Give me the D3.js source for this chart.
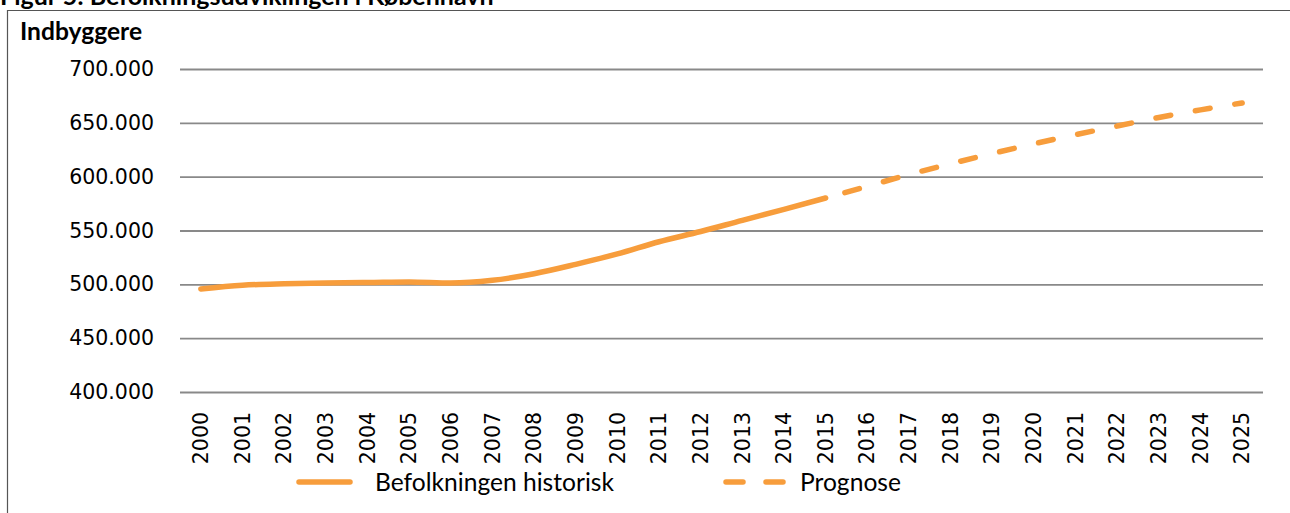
<!DOCTYPE html>
<html><head><meta charset="utf-8">
<script src="https://cdn.jsdelivr.net/npm/d3@7"></script>
<style>html,body{margin:0;padding:0;background:#fff;overflow:hidden}</style>
</head><body>
<svg id="c" width="1290" height="513"></svg>
<script>
const years = ["2000","2001","2002","2003","2004","2005","2006","2007","2008","2009","2010","2011","2012","2013","2014","2015","2016","2017","2018","2019","2020","2021","2022","2023","2024","2025"];
const histYears = ["2000","2001","2002","2003","2004","2005","2006","2007","2008","2009","2010","2011","2012","2013","2014","2015"];
const histValues = [495699, 499148, 500531, 501285, 501664, 502204, 501158, 503699, 509861, 518574, 528208, 539542, 549050, 559440, 569557, 580184];
const progYears = ["2015","2016","2017","2018","2019","2020","2021","2022","2023","2024","2025"];
const progValues = [580184, 591000, 602000, 612000, 621500, 630500, 639000, 647000, 655000, 662000, 668500];
const yTicks = [400000, 450000, 500000, 550000, 600000, 650000, 700000];
const title = "Figur 5: Befolkningsudviklingen i København";
const yTitle = "Indbyggere";
const seriesNames = ["Befolkningen historisk", "Prognose"];

const svg = d3.select("#c");
const orange = "#F79D3C";
const labelFont = "'DejaVu Sans', sans-serif";
const textFont = "Lato, 'Open Sans', sans-serif";

// frame
svg.append("path").attr("d","M7.5,520 V10.5 H1300").attr("fill","none").attr("stroke","#555").attr("stroke-width",1.2);
// title (cut off at the top edge as in the reference)
svg.append("text").attr("x",0).attr("y",5).text(title)
  .attr("font-family",textFont).attr("font-weight","bold").attr("font-size",25).attr("fill","#000");
svg.append("text").attr("x",20).attr("y",40).text(yTitle)
  .attr("font-family",textFont).attr("font-weight","bold").attr("font-size",24.6).attr("fill","#000");

const x = d3.scaleBand().domain(years).range([180,1263]);
const y = d3.scaleLinear().domain([400000,700000]).range([392,69]);
const cx = d => x(d) + x.bandwidth()/2;

// gridlines
const yAxis = d3.axisLeft(y).tickValues(yTicks).tickSize(-(1263-180)).tickPadding(26)
  .tickFormat(d => d3.format(",")(d).replace(/,/g,"."));
const ga = svg.append("g").attr("transform","translate(180,0)").call(yAxis);
ga.select(".domain").remove();
ga.selectAll(".tick line").attr("stroke","#898989").attr("stroke-width",1.8);
ga.selectAll(".tick text").attr("font-family",labelFont).attr("font-size",20.5).attr("fill","#000");

// x axis labels
const xAxis = d3.axisBottom(x).tickSize(0).tickPadding(0);
const gx = svg.append("g").attr("transform","translate(0,392)").call(xAxis);
gx.select(".domain").remove();
gx.selectAll(".tick text")
  .attr("font-family",labelFont).attr("font-size",20.5).attr("fill","#000")
  .attr("transform","translate(0,20) rotate(-90)")
  .attr("text-anchor","end").attr("dy","0.35em").attr("x",0).attr("y",0);

const line = d3.line().curve(d3.curveMonotoneX);
svg.append("path")
  .attr("d", line(histYears.map((yr,i)=>[cx(yr), y(histValues[i])])))
  .attr("fill","none").attr("stroke",orange).attr("stroke-width",5.5).attr("stroke-linecap","round").attr("stroke-linejoin","round");
svg.append("path")
  .attr("d", line(progYears.map((yr,i)=>[cx(yr), y(progValues[i])])))
  .attr("fill","none").attr("stroke",orange).attr("stroke-width",5.5).attr("stroke-linecap","round")
  .attr("stroke-dasharray","15,25").attr("stroke-dashoffset",-20);

// legend
const lg = svg.append("g");
lg.append("line").attr("x1",299).attr("x2",350).attr("y1",482).attr("y2",482)
  .attr("stroke",orange).attr("stroke-width",5.5).attr("stroke-linecap","round");
lg.append("text").attr("x",375).attr("y",482).attr("dy","0.35em").text(seriesNames[0])
  .attr("font-family",textFont).attr("font-size",24.6).attr("fill","#000");
lg.append("line").attr("x1",726).attr("x2",786).attr("y1",482).attr("y2",482)
  .attr("stroke",orange).attr("stroke-width",5.5).attr("stroke-linecap","round").attr("stroke-dasharray","17,23");
lg.append("text").attr("x",800).attr("y",482).attr("dy","0.35em").text(seriesNames[1])
  .attr("font-family",textFont).attr("font-size",24.6).attr("fill","#000");
</script>
</body></html>
